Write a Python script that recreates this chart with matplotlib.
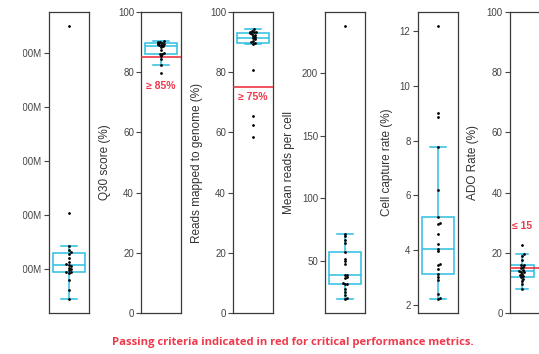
import numpy as np
import matplotlib
matplotlib.use("Agg")
import matplotlib.pyplot as plt
from matplotlib.patches import Rectangle

plt.rcParams['font.family'] = ['Liberation Sans', 'DejaVu Sans']

# data
total_reads = [45, 62, 80, 93, 94, 95, 98, 101, 103, 106, 108, 110, 114, 120,
               129, 131, 136, 143, 204, 549]
q30 = [79.8, 82.4, 84.3, 85.3, 86.0, 86.0, 86.4, 87.6, 88.4, 88.8, 89.0, 89.2,
       89.4, 89.5, 89.6, 89.7, 89.9, 90.0, 90.2, 90.4]
mapped = [58.6, 62.5, 65.6, 80.7, 89.5, 89.7, 90.0, 90.4, 91.0, 91.4, 91.8,
          92.2, 92.6, 92.9, 93.1, 93.3, 93.5, 93.6, 93.9, 94.3]
mean_reads = [19.3, 20.5, 22.3, 24.9, 27.6, 31.2, 31.5, 32.3, 36.0, 37.0, 38.3,
              38.9, 47.4, 49.5, 51.4, 56.6, 64.1, 66.7, 69.4, 71.2, 237.7]
capture = [2.2, 2.25, 2.4, 2.9, 3.0, 3.1, 3.3, 3.45, 3.5, 3.95, 4.05, 4.2, 4.6,
           4.95, 5.0, 5.2, 6.2, 7.75, 8.85, 9.0, 12.2]
ado = [8.0, 9.5, 10.5, 11.2, 11.8, 12.1, 12.5, 13.0, 13.5, 13.7, 13.9, 14.2,
       14.8, 15.3, 15.8, 16.0, 17.5, 19.0, 19.6, 22.6]

panels = [
    dict(data=total_reads, label="", ylim=None, ticks=[100, 200, 300, 400, 500],
         ticklabels=["100M", "200M", "300M", "400M", "500M"], left=48.5),
    dict(data=q30, label="Q30 score (%)", ylim=(0, 100), ticks=[0, 20, 40, 60, 80, 100],
         ticklabels=None, left=141, crit=85, crit_text="≥ 85%", crit_y=75.6),
    dict(data=mapped, label="Reads mapped to genome (%)", ylim=(0, 100),
         ticks=[0, 20, 40, 60, 80, 100], ticklabels=None, left=233,
         crit=75, crit_text="≥ 75%", crit_y=71.7),
    dict(data=mean_reads, label="Mean reads per cell", ylim=None, ticks=[50, 100, 150, 200],
         ticklabels=None, left=325),
    dict(data=capture, label="Cell capture rate (%)", ylim=None, ticks=[2, 4, 6, 8, 10, 12],
         ticklabels=None, left=417.5),
    dict(data=ado, label="ADO Rate (%)", ylim=(0, 100), ticks=[0, 20, 40, 60, 80, 100],
         ticklabels=None, left=509.5, crit=15, crit_text="≤ 15", crit_y=29.0,
         xlim=(-0.33, 0.72), width=0.62),
]

W, H = 539, 354
cyan = "#2cbfe0"
red = "#ee2434"
red_text = "#f0384b"
spine = "#3a3a3a"

fig = plt.figure(figsize=(W / 100, H / 100), dpi=100)


def swarm_x(vals, ylo, yhi, px_h=300.0, px_w=40.0, diam=2.2, step=1.1):
    # simple beeswarm in pixel space, kept narrow
    order = np.argsort(vals)
    ys = (np.asarray(vals) - ylo) / (yhi - ylo) * px_h
    placed = []
    xs = np.zeros(len(vals))
    for i in order:
        for k in [0, 1, -1, 2, -2, 3, -3]:
            x = k * step
            if all((x - px) ** 2 + (ys[i] - py) ** 2 >= diam ** 2 for px, py in placed):
                break
        placed.append((x, ys[i]))
        xs[i] = x / px_w
    return xs


for p in panels:
    ax = fig.add_axes([p["left"] / W, (H - 312.7) / H, 40 / W, 300.4 / H])
    d = np.array(p["data"], dtype=float)
    xlim = p.get("xlim", (-0.5, 0.5))
    w = p.get("width", 0.8)
    ax.boxplot(d, positions=[0], widths=w, showfliers=False, patch_artist=True,
               boxprops=dict(facecolor="none", edgecolor=cyan, linewidth=1.1),
               medianprops=dict(color=cyan, linewidth=1.1),
               whiskerprops=dict(color=cyan, linewidth=1.1),
               capprops=dict(color=cyan, linewidth=1.1), zorder=2)
    if p["ylim"] is not None:
        ax.set_ylim(*p["ylim"])
        ylo, yhi = p["ylim"]
    else:
        span = d.max() - d.min()
        ylo, yhi = d.min() - 0.05 * span, d.max() + 0.05 * span
        ax.set_ylim(ylo, yhi)
    xs = swarm_x(d, ylo, yhi)
    ax.scatter(xs, d, s=4, color="black", zorder=4, linewidths=0)
    if "crit" in p:
        ax.axhline(p["crit"], color=red, linewidth=1.1, zorder=3)
        ax.text(0, p["crit_y"], p["crit_text"], color=red_text, fontsize=7.5,
                fontweight="bold", ha="center", va="center")
    ax.set_xlim(*xlim)
    ax.set_xticks([])
    ax.set_yticks(p["ticks"])
    if p["ticklabels"]:
        ax.set_yticklabels(p["ticklabels"])
    ax.tick_params(axis="y", labelsize=7, colors="#444444", length=3.5, width=0.8,
                   pad=1.5)
    for s in ax.spines.values():
        s.set_color(spine)
        s.set_linewidth(0.9)
    if p["label"]:
        ax.set_ylabel(p["label"], fontsize=8.5, color="#333333", labelpad=5)

# left edge of the source image is cropped
fig.add_artist(Rectangle((0, 0), 23 / W, 1, transform=fig.transFigure,
                         facecolor="white", edgecolor="none", zorder=10))

fig.text(293 / W, 1 - 343 / H,
         "Passing criteria indicated in red for critical performance metrics.",
         ha="center", va="center", fontsize=8.1, color=red_text,
         family=["Open Sans", "DejaVu Sans"], fontweight="bold")

fig.savefig("out.png", dpi=100)
